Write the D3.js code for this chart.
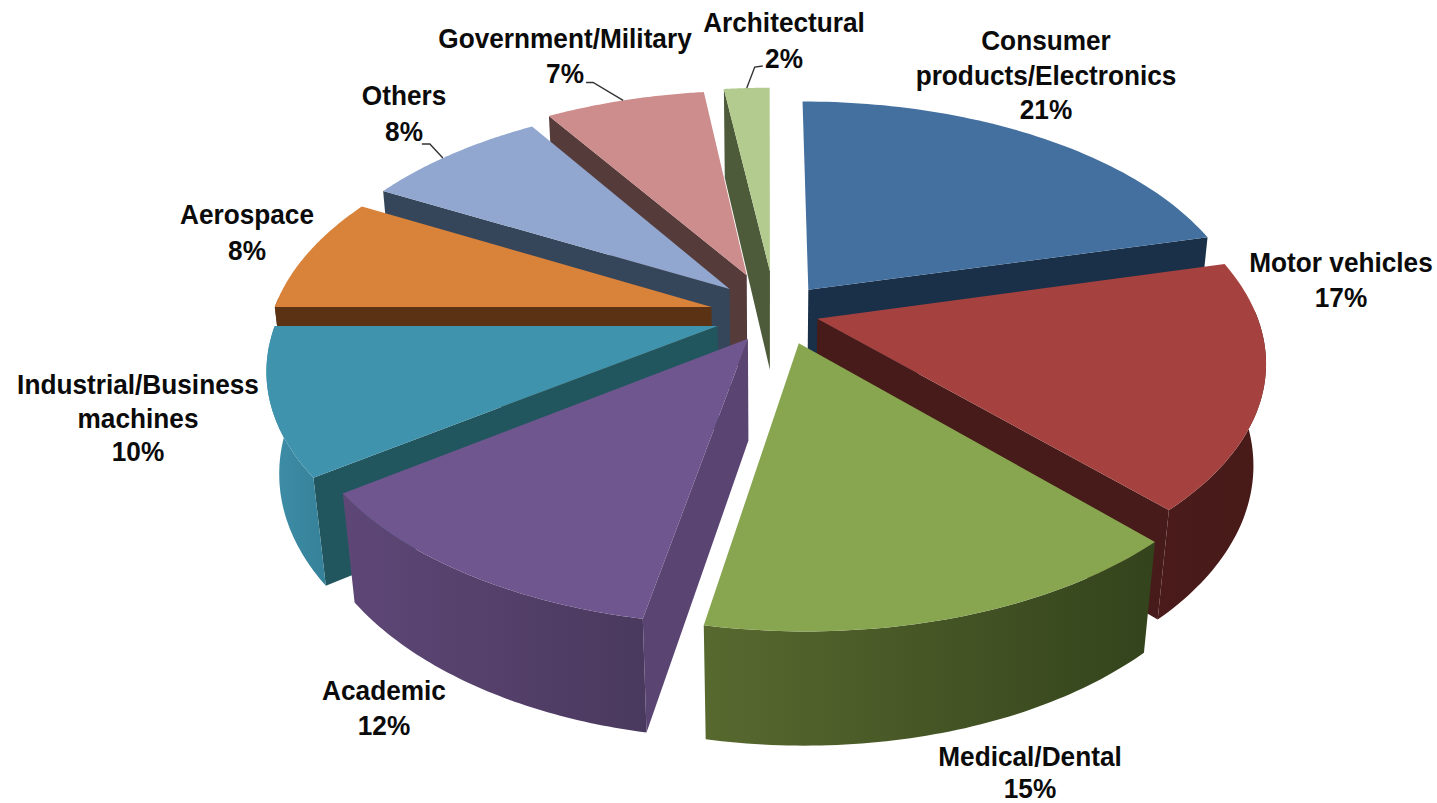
<!DOCTYPE html>
<html>
<head>
<meta charset="utf-8">
<title>Sectors</title>
<script src="https://cdn.jsdelivr.net/npm/d3@7/dist/d3.min.js"></script>
<style>
html,body{margin:0;padding:0;background:#fff;}
svg{display:block;}
text{font-family:"Liberation Sans",Arial,sans-serif;font-weight:bold;fill:#0b0b0b;}
</style>
</head>
<body>
<svg id="chart" width="1437" height="803"></svg>
<script>
// Sector shares, clockwise from twelve o'clock
const sectors = ["Consumer products/Electronics","Motor vehicles","Medical/Dental","Academic",
  "Industrial/Business machines","Aerospace","Others","Government/Military","Architectural"];
const shares = [21,17,15,12,10,8,8,7,2];

// Colours per sector: top face, cut face, wall gradient ends
const topColors  = ["#44709f","#a5423f","#88a550","#70568f","#3f93ad","#d98239","#92a7cf","#cd8d8c","#b3cb8e"];
const cutColors  = ["#1a3049","#471b19","#33431c","#5a4472","#22565f","#5b3314","#35465b","#553b3a","#4e5b3a"];
const wallLeft   = ["#1a3049","#4a1b1a","#58692f","#5e4777","#3f8fa8","#5b3314","#35465b","#553b3a","#4e5b3a"];
const wallRight  = ["#1a3049","#471a18","#33431c","#4a395e","#358199","#5b3314","#35465b","#553b3a","#4e5b3a"];

// How far each slice is pulled out, and the bearing it travels along (degrees)
const pullAmount  = [1.0,0.94,1.1,0.898,1.026,1.06,0.99,1.18,1.24];
const pullBearing = [49.5,104.5,149.5,204,244.3,276.7,313,339.9,1.7];

// Label lines, with the anchor of each block
const labelLines = [
  ["Consumer","products/Electronics","21%"],["Motor vehicles","17%"],["Medical/Dental","15%"],
  ["Academic","12%"],["Industrial/Business","machines","10%"],["Aerospace","8%"],["Others","8%"],
  ["Government/Military","7%"],["Architectural","2%"]];
const labelX = [1046,1341,1030,384,138,247,404,565,784];
const labelY = [50,272,766,700,394,224,105,48,32];
const lineGap = [34.5,35,32,35,33.5,36,36,35,36];

// Leader lines: where they touch the rim (fraction of the arc) and their elbow offsets
const leaders = [
  {i:6, at:0.44, elbow:[-13,-14], tail:[-21,-14]},
  {i:7, at:0.49, elbow:[-30,-18], tail:[-37,-18]},
  {i:8, at:0.50, elbow:[8,-21], tail:[16,-22]}
];

const width = 1437, height = 803;
const svg = d3.select("#chart");
const defs = svg.append("defs");

// Perspective view of the disc plane: u runs right, v toward the viewer, z down through the thickness
const cx = 768, cy = 311, tiltK = 0.17, shrinkM = 0.025;
const uScale = d3.scaleLinear().domain([-1,1]).range([-438,438]);
const vScale = d3.scaleLinear().domain([-1,1]).range([-227,227]);
const zScale = d3.scaleLinear().domain([0,1]).range([0,103]);
const pullU = 0.123, pullV = 0.146;

function project(u, v, z) {
  const w = 1 - tiltK * v + shrinkM * z;
  return [cx + uScale(u) / w, cy + (vScale(v) + zScale(z)) / w];
}

const pie = d3.pie().sort(null).startAngle(0).endAngle(2 * Math.PI);
const slices = pie(shares).map((d, i) => {
  const b = pullBearing[i] * Math.PI / 180;
  const ou = pullU * pullAmount[i] * Math.sin(b);
  const ov = -pullV * pullAmount[i] * Math.cos(b);
  const rim = (a, z) => project(ou + Math.sin(a), ov - Math.cos(a), z);
  const apex = z => project(ou, ov, z);
  const angles = d3.range(0, 61).map(k => d.startAngle + (d.endAngle - d.startAngle) * k / 60);
  return {...d, i, ov, rim, apex, angles, mid: (d.startAngle + d.endAngle) / 2};
});

const path = d3.line().curve(d3.curveLinearClosed);

// One gradient per wall, running left to right across its own box
slices.forEach(s => {
  const g = defs.append("linearGradient").attr("id", "wall" + s.i);
  g.append("stop").attr("offset", 0).attr("stop-color", wallLeft[s.i]);
  g.append("stop").attr("offset", 1).attr("stop-color", wallRight[s.i]);
});

// Paint from the back of the disc to the front
const order = slices.slice().sort((a, b) => (-Math.cos(a.mid)) - (-Math.cos(b.mid)));
const pieG = svg.append("g");
const eps = 1e-6;
order.forEach(s => {
  const g = pieG.append("g").attr("class", "slice");
  // A cut face only shows when it looks toward the viewer:
  // the leading cut on the left half of the disc, the trailing cut on the right half
  const cuts = [];
  if (Math.sin(s.startAngle) < -eps) cuts.push(s.startAngle);
  if (Math.sin(s.endAngle) > eps) cuts.push(s.endAngle);
  cuts.forEach(a => {
    g.append("path")
      .attr("d", path([s.apex(0), s.rim(a, 0), s.rim(a, 1), s.apex(1)]))
      .attr("fill", cutColors[s.i]);
  });
  // Outer wall, only along the near half of the rim
  const near = s.angles.filter(a => Math.cos(a) < 0.05);
  if (near.length > 1) {
    const wall = near.map(a => s.rim(a, 0)).concat(near.slice().reverse().map(a => s.rim(a, 1)));
    g.append("path").attr("d", path(wall)).attr("fill", `url(#wall${s.i})`);
  }
  // Top face
  const top = [s.apex(0)].concat(s.angles.map(a => s.rim(a, 0)));
  g.append("path").attr("d", path(top)).attr("fill", topColors[s.i]);
});

// Leader lines
const lineOpen = d3.line();
leaders.forEach(l => {
  const s = slices[l.i];
  const p = s.rim(s.startAngle + (s.endAngle - s.startAngle) * l.at, 0);
  svg.append("path")
    .attr("d", lineOpen([p, [p[0] + l.elbow[0], p[1] + l.elbow[1]], [p[0] + l.tail[0], p[1] + l.tail[1]]]))
    .attr("fill", "none").attr("stroke", "#333").attr("stroke-width", 1.4);
});

// Labels: slightly tall type, narrowed horizontally
labelLines.forEach((lines, i) => {
  lines.forEach((t, j) => {
    svg.append("text")
      .attr("transform", `translate(${labelX[i]},${labelY[i] + j * lineGap[i]}) scale(0.92,1)`)
      .attr("text-anchor", "middle")
      .attr("font-size", 28.5)
      .text(t);
  });
});
</script>
</body>
</html>
